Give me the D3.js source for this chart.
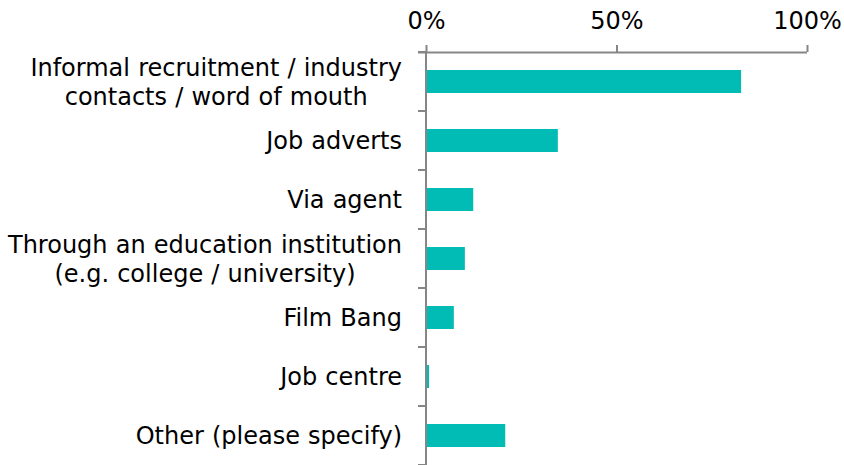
<!DOCTYPE html>
<html>
<head>
<meta charset="utf-8">
<script src="https://cdn.jsdelivr.net/npm/d3@7"></script>
<style>
  html, body { margin: 0; padding: 0; background: #fff; }
  svg { display: block; }
  text { font-family: "DejaVu Sans", Verdana, sans-serif; fill: #000; }
</style>
</head>
<body>
<svg id="chart" width="844" height="465"></svg>
<script>
const categories = [
  "Informal recruitment / industry\ncontacts / word of mouth",
  "Job adverts",
  "Via agent",
  "Through an education institution\n(e.g. college / university)",
  "Film Bang",
  "Job centre",
  "Other (please specify)"
];
const values = [82.7, 34.6, 12.4, 10.2, 7.3, 0.8, 20.8];
const tickValues = [0, 50, 100];
const tickLabels = ["0%", "50%", "100%"];

const svg = d3.select("#chart");
const fontSize = 24;
const axisColor = "#868686";
const barColor = "#00BCB4";

const x = d3.scaleLinear().domain([0, 100]).range([426, 807]);
const y = d3.scaleBand().domain(categories).range([52, 465])
  .paddingInner(0.61).paddingOuter(0.305);

// bars
svg.append("g").selectAll("rect")
  .data(values)
  .join("rect")
  .attr("x", x(0))
  .attr("y", (d, i) => y(categories[i]))
  .attr("width", d => x(d) - x(0))
  .attr("height", y.bandwidth())
  .attr("fill", barColor);

// top axis
const xAxis = d3.axisTop(x)
  .tickValues(tickValues)
  .tickFormat((d, i) => tickLabels[i])
  .tickSize(7)
  .tickSizeOuter(0)
  .tickPadding(16);
const gx = svg.append("g").attr("transform", "translate(0,52)").call(xAxis);
gx.select(".domain").attr("stroke", axisColor).attr("stroke-width", 2)
  .attr("d", `M418,0.5H${x(100)}`);
gx.selectAll(".tick line").attr("stroke", axisColor).attr("stroke-width", 2);
gx.selectAll(".tick text").attr("font-size", fontSize)
  .attr("font-family", "DejaVu Sans, Verdana, sans-serif").attr("fill", "#000");

// left axis line with boundary ticks
const step = y.step();
const boundaries = d3.range(categories.length + 1).map(i => 52 + i * step);
const gy = svg.append("g");
gy.append("line")
  .attr("x1", x(0)).attr("x2", x(0))
  .attr("y1", 52).attr("y2", 465)
  .attr("stroke", axisColor).attr("stroke-width", 2);
gy.selectAll("line.bt")
  .data(boundaries)
  .join("line")
  .attr("class", "bt")
  .attr("x1", x(0) - 8).attr("x2", x(0))
  .attr("y1", d => d).attr("y2", d => d)
  .attr("stroke", axisColor).attr("stroke-width", 2);

// category labels
const lineH = 29;
const capHalf = 8.7;
const labelRight = 402;
const lg = svg.append("g");
categories.forEach(c => {
  const lines = c.split("\n");
  const cy = y(c) + y.bandwidth() / 2;
  const t = lg.append("text").attr("font-size", fontSize)
    .attr("text-anchor", "middle").attr("word-spacing", 0.5);
  const spans = lines.map((ln, j) =>
    t.append("tspan").text(ln)
      .attr("y", cy + capHalf + (j - (lines.length - 1) / 2) * lineH)
  );
  let maxW = 0;
  spans.forEach(s => { maxW = Math.max(maxW, s.node().getComputedTextLength()); });
  spans.forEach(s => s.attr("x", labelRight - maxW / 2));
});
</script>
</body>
</html>
